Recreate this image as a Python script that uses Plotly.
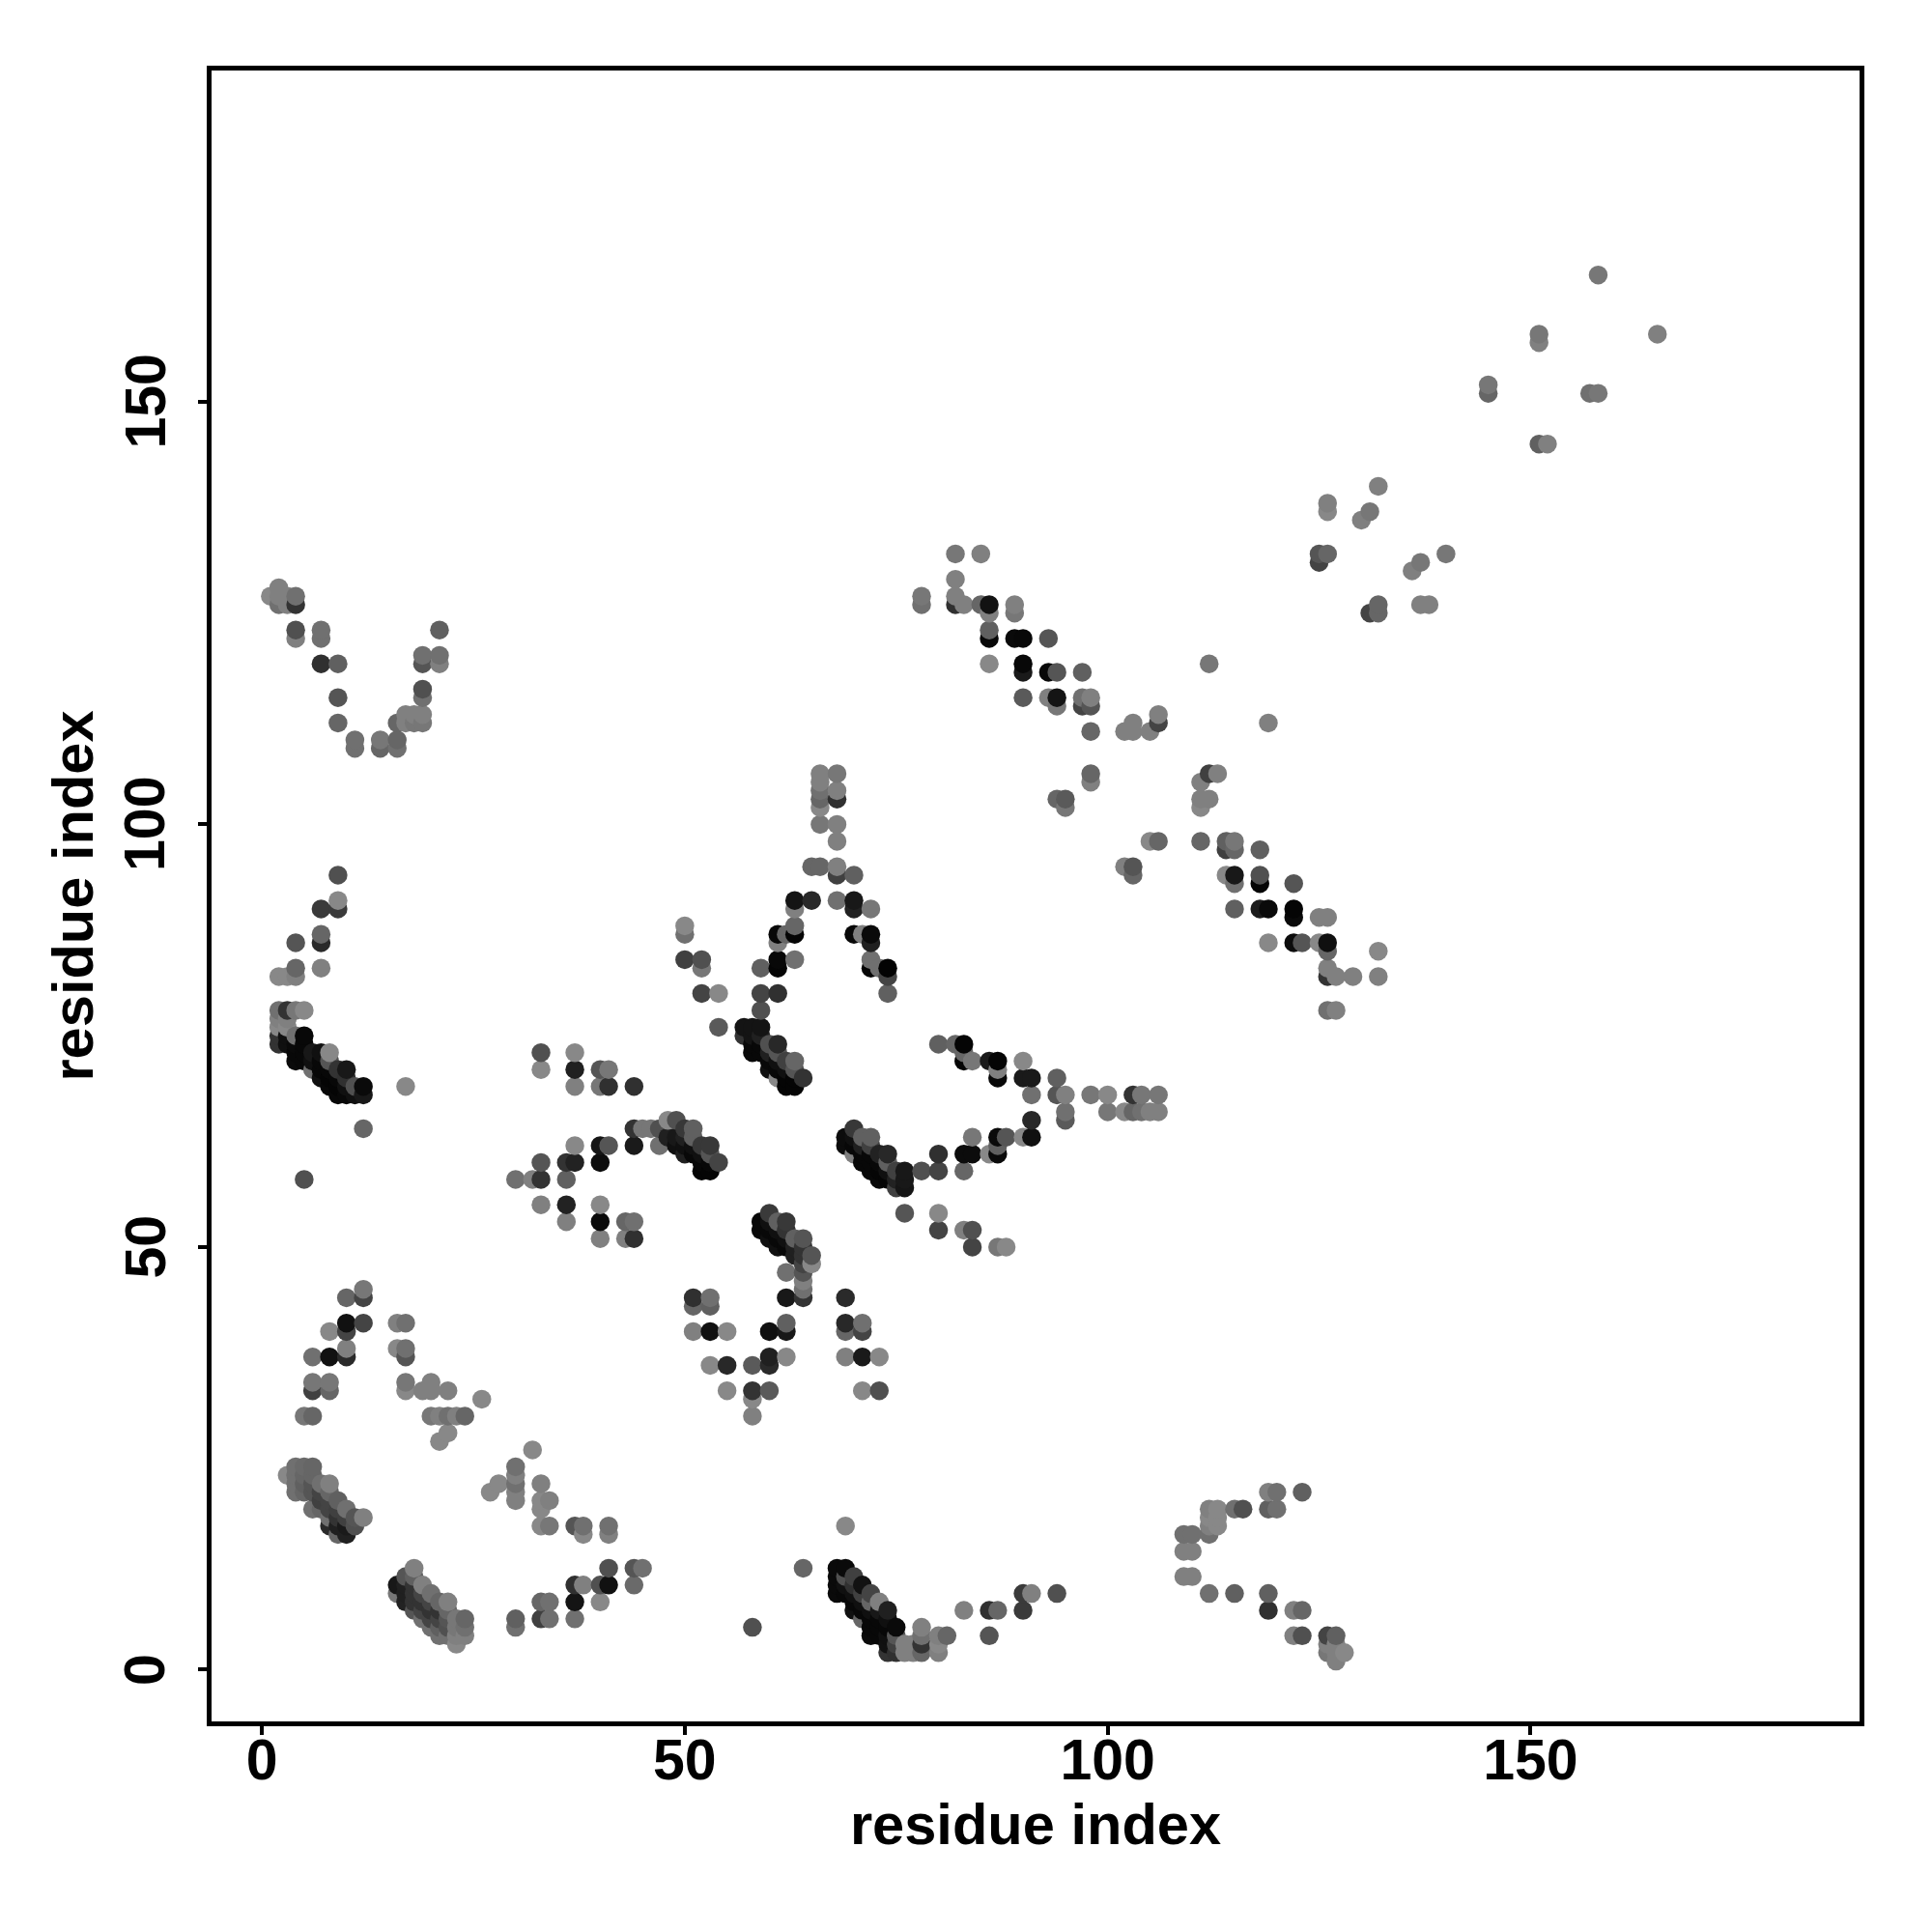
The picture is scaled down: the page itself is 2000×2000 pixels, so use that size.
import plotly.graph_objects as go

# (residue i, residue j, grey level)
low_left_arc = [(12,45,0x77),(12,44,0x44),(10,44,0x66),(10,41,0x11),(12,41,0x44),(10,40,0x44),(8,40,0x88),(10,38,0x80),(10,37,0x2a),(8,37,0x11),(6,37,0x70),(6,34,0x77),(8,34,0x77),(6,33,0x40),(8,33,0x66),(5,30,0x77),(6,30,0x66)]
low_mid_arc = [(16,41,0x80),(17,41,0x70),(16,38,0x88),(17,38,0x70),(17,37,0x55),(17,34,0x77),(17,33,0x88),(19,33,0x80),(20,34,0x80),(20,33,0x80),(22,33,0x80),(26,32,0x88),(20,30,0x77),(21,30,0x80),(22,30,0x70),(23,30,0x80),(24,30,0x66),(22,28,0x88),(21,27,0x88)]
helix_a = [(3,23,0x88),(4,24,0x70),(4,23,0x70),(4,22,0x70),(4,21,0x70),(5,24,0x6a),(5,23,0x66),(5,22,0x60),(5,21,0x66),(6,24,0x66),(6,23,0x66),(6,22,0x55),(6,21,0x55),(6,19,0x70),(7,22,0x70),(7,21,0x44),(7,20,0x40),(7,19,0x66),(8,22,0x80),(8,21,0x66),(8,20,0x44),(8,19,0x44),(8,18,0x70),(8,17,0x2a),(9,20,0x60),(9,19,0x40),(9,18,0x33),(9,17,0x20),(9,16,0x66),(10,19,0x70),(10,18,0x40),(10,17,0x1a),(10,16,0x20),(11,18,0x55),(11,17,0x50),(12,18,0x80)]
helix_b = [(18,12,0x80),(17,11,0x55),(18,11,0x60),(16,10,0x18),(17,10,0x20),(18,10,0x33),(19,10,0x80),(16,9,0x77),(17,9,0x20),(18,9,0x33),(19,9,0x44),(20,9,0x70),(17,8,0x22),(18,8,0x33),(19,8,0x33),(20,8,0x44),(21,8,0x66),(22,8,0x80),(18,7,0x55),(19,7,0x44),(20,7,0x33),(21,7,0x33),(22,7,0x66),(19,6,0x70),(20,6,0x44),(21,6,0x44),(22,6,0x55),(23,6,0x77),(24,6,0x66),(20,5,0x70),(21,5,0x60),(22,5,0x50),(23,5,0x77),(24,5,0x70),(21,4,0x70),(22,4,0x70),(23,4,0x80),(24,4,0x80),(23,3,0x88)]
low_mid_sheet = [(32,26,0x88),(30,24,0x70),(30,23,0x80),(30,22,0x70),(30,21,0x80),(30,20,0x80),(28,22,0x88),(27,21,0x88),(33,22,0x80),(33,20,0x88),(34,20,0x80),(33,19,0x88),(33,17,0x88),(34,17,0x77),(37,17,0x55),(38,17,0x70),(38,16,0x88),(41,17,0x70),(41,16,0x80),(41,12,0x50),(44,12,0x55),(45,12,0x70),(37,10,0x30),(38,10,0x80),(40,10,0x50),(41,10,0x11),(44,10,0x6a),(37,8,0x14),(40,8,0x88),(33,8,0x66),(34,8,0x70),(33,6,0x40),(34,6,0x70),(37,6,0x70),(30,6,0x60),(30,5,0x70)]
mid_arc = [(51,44,0x30),(51,43,0x66),(53,44,0x70),(53,43,0x60),(51,40,0x80),(53,40,0x11),(53,36,0x88),(55,40,0x88),(60,40,0x10),(62,40,0x18),(62,41,0x60),(62,44,0x18),(64,44,0x33),(64,45,0x70),(64,46,0x80),(64,47,0x55),(62,47,0x70),(64,48,0x44),(65,49,0x55),(65,48,0x88),(69,44,0x2a),(69,41,0x28),(69,40,0x66),(71,41,0x70),(71,40,0x44),(55,36,0x28),(58,36,0x5a),(60,37,0x20),(60,36,0x2a),(62,37,0x88),(69,37,0x80),(71,37,0x1a),(73,37,0x88),(55,33,0x88),(58,33,0x33),(60,33,0x5a),(58,32,0x88),(58,30,0x80),(71,33,0x88),(73,33,0x50)]
helix_c = [(69,17,0x88),(64,12,0x66),(68,12,0x0a),(69,12,0x0a),(68,11,0x0a),(69,11,0x50),(70,11,0x40),(68,10,0x0a),(69,10,0x10),(70,10,0x30),(71,10,0x12),(68,9,0x0a),(69,9,0x08),(70,9,0x10),(71,9,0x40),(72,9,0x44),(70,8,0x08),(71,8,0x10),(72,8,0x66),(73,8,0x80),(70,7,0x10),(71,7,0x08),(72,7,0x10),(73,7,0x18),(74,7,0x20),(71,6,0x66),(72,6,0x08),(73,6,0x08),(74,6,0x10),(72,5,0x08),(73,5,0x08),(74,5,0x08),(75,5,0x0a),(72,4,0x0a),(73,4,0x08),(74,4,0x10),(75,4,0x55),(74,3,0x11),(75,3,0x40),(74,2,0x33),(75,2,0x30),(76,3,0x80),(76,2,0x80),(77,3,0x80),(77,2,0x80),(78,5,0x80),(78,4,0x70),(78,3,0x33),(78,2,0x66)]
low_right = [(80,2,0x80),(80,3,0x88),(80,4,0x80),(81,4,0x66),(86,4,0x55),(83,7,0x80),(86,7,0x30),(87,7,0x66),(90,7,0x3a),(90,9,0x3a),(91,9,0x80),(94,9,0x50),(58,5,0x50),(109,11,0x80),(110,11,0x80),(109,14,0x80),(110,14,0x80),(109,16,0x70),(110,16,0x70),(112,16,0x70),(112,19,0x80),(113,19,0x88),(112,18,0x88),(113,18,0x88),(112,17,0x80),(113,17,0x88),(115,19,0x70),(116,19,0x50),(119,21,0x80),(120,21,0x70),(123,21,0x60),(119,19,0x60),(120,19,0x70),(112,9,0x70),(115,9,0x60),(119,9,0x60),(119,7,0x30),(122,7,0x80),(123,7,0x66),(122,4,0x80),(123,4,0x50),(126,4,0x44),(127,4,0x60),(126,3,0x80),(127,3,0x80),(126,2,0x77),(127,2,0x80),(128,2,0x88),(127,1,0x80)]
upper_left_arc = [(9,94,0x50),(9,91,0x88),(9,90,0x3a),(7,90,0x3a),(7,87,0x66),(7,86,0x2a),(4,86,0x55),(7,83,0x80),(4,83,0x66),(4,82,0x80),(3,82,0x88),(2,82,0x88),(17,69,0x88),(12,64,0x66),(5,58,0x50)]
helix_d = [(2,78,0x70),(3,78,0x33),(4,78,0x77),(5,78,0x88),(2,77,0x80),(3,77,0x80),(2,76,0x88),(3,76,0x88),(2,75,0x33),(2,74,0x33),(3,75,0x10),(3,74,0x10),(4,75,0x70),(5,75,0x08),(4,74,0x0a),(5,74,0x08),(4,73,0x08),(5,73,0x08),(4,72,0x0a),(5,72,0x08),(6,73,0x18),(7,73,0x10),(8,73,0x88),(6,72,0x10),(7,72,0x08),(8,72,0x55),(6,71,0x70),(7,71,0x08),(8,71,0x08),(9,71,0x33),(10,71,0x18),(7,70,0x10),(8,70,0x05),(9,70,0x08),(10,70,0x30),(8,69,0x08),(9,69,0x05),(10,69,0x10),(11,69,0x50),(12,69,0x0a),(9,68,0x08),(10,68,0x08),(11,68,0x10),(12,68,0x18)]
mid_left = [(33,73,0x50),(33,71,0x88),(37,73,0x88),(37,71,0x20),(37,69,0x80),(40,71,0x55),(41,71,0x77),(40,69,0x77),(41,69,0x30),(44,69,0x30),(44,64,0x33),(45,64,0x77),(46,64,0x77),(47,64,0x50),(37,62,0x88),(40,62,0x15),(41,62,0x55),(44,62,0x1a),(47,62,0x70),(33,60,0x55),(36,60,0x33),(37,60,0x22),(40,60,0x0c),(30,58,0x70),(32,58,0x80),(33,58,0x33),(36,58,0x60),(33,55,0x80),(36,55,0x22),(40,55,0x88),(36,53,0x80),(40,53,0x0a),(43,53,0x66),(44,53,0x70),(40,51,0x80),(43,51,0x80),(44,51,0x30)]
helix_e = [(48,65,0x88),(49,65,0x50),(50,64,0x38),(51,64,0x60),(48,63,0x20),(49,63,0x18),(50,63,0x20),(51,63,0x60),(49,62,0x10),(50,62,0x10),(50,61,0x20),(51,62,0x10),(51,61,0x08),(52,62,0x38),(53,62,0x38),(52,61,0x10),(53,61,0x55),(54,60,0x44),(52,60,0x08),(53,60,0x08),(52,59,0x05),(53,59,0x05)]
helix_f = [(54,76,0x5a),(57,76,0x14),(58,76,0x14),(59,76,0x14),(57,75,0x33),(58,75,0x14),(59,75,0x20),(58,74,0x08),(59,74,0x08),(60,74,0x50),(61,74,0x28),(58,73,0x08),(59,73,0x08),(60,73,0x20),(61,73,0x55),(60,72,0x08),(61,72,0x10),(62,72,0x40),(63,72,0x66),(60,71,0x10),(61,71,0x08),(62,71,0x10),(63,71,0x55),(61,70,0x88),(62,70,0x05),(63,70,0x05),(64,70,0x33),(62,69,0x05),(63,69,0x05)]
helix_g = [(70,64,0x38),(69,63,0x0c),(70,63,0x10),(71,63,0x60),(72,63,0x60),(69,62,0x0c),(70,62,0x08),(71,62,0x20),(72,62,0x40),(70,61,0x80),(71,61,0x08),(72,61,0x08),(73,61,0x22),(74,61,0x28),(71,60,0x08),(72,60,0x08),(73,60,0x08),(74,60,0x60),(72,59,0x08),(73,59,0x05),(74,59,0x10),(75,59,0x40),(76,59,0x18),(73,58,0x08),(74,58,0x05),(75,58,0x22),(76,58,0x18),(75,57,0x40),(76,57,0x15),(76,54,0x55)]
helix_h = [(60,54,0x3a),(59,53,0x08),(60,53,0x10),(61,53,0x60),(62,53,0x38),(59,52,0x08),(60,52,0x08),(61,52,0x10),(62,52,0x33),(60,51,0x10),(61,51,0x08),(62,51,0x10),(63,51,0x60),(64,51,0x55),(61,50,0x10),(62,50,0x08),(63,50,0x20),(64,50,0x33),(63,49,0x20),(64,49,0x33)]
upper_mid = [(66,106,0x80),(68,106,0x77),(66,105,0x80),(66,104,0x70),(68,104,0x80),(66,103,0x66),(68,103,0x30),(66,102,0x88),(66,100,0x77),(68,100,0x80),(68,98,0x80),(65,95,0x66),(66,95,0x66),(68,95,0x80),(68,94,0x40),(70,94,0x60),(63,91,0x14),(65,91,0x28),(68,91,0x70),(70,91,0x18),(70,90,0x22),(72,90,0x77),(63,90,0x80),(61,87,0x08),(63,88,0x66),(63,87,0x05),(62,87,0x66),(61,86,0x80),(70,87,0x08),(71,87,0x80),(72,87,0x0a),(72,86,0x20),(61,84,0x08),(61,83,0x05),(63,84,0x70),(59,83,0x60),(72,84,0x70),(72,83,0x05),(73,83,0x70),(74,83,0x03),(74,82,0x44),(74,80,0x60),(59,80,0x44),(61,80,0x30),(59,78,0x50),(50,88,0x88),(50,87,0x70),(50,84,0x40),(52,84,0x50),(52,83,0x77),(52,80,0x44),(54,80,0x88)]
right_fork = [(80,74,0x60),(82,74,0x66),(83,74,0x05),(83,73,0x66),(83,72,0x05),(84,72,0x77),(86,72,0x1a),(87,72,0x05),(87,71,0x80),(87,70,0x08),(90,72,0x88),(90,70,0x1a),(91,70,0x1a),(91,68,0x70),(94,70,0x60),(94,68,0x55),(95,68,0x80),(95,66,0x70),(95,65,0x5a),(98,68,0x77),(100,68,0x88),(100,66,0x77),(102,66,0x88),(103,68,0x33),(103,66,0x66),(104,68,0x77),(104,66,0x70),(105,66,0x80),(106,66,0x80),(106,68,0x77),(91,65,0x28),(91,63,0x10),(90,63,0x88),(87,63,0x0a),(88,63,0x55),(84,63,0x77),(83,61,0x0c),(84,61,0x0c),(80,61,0x30),(86,61,0x88),(87,61,0x0a),(87,62,0x60),(78,59,0x50),(80,59,0x44),(83,59,0x66),(80,54,0x88),(80,52,0x44),(83,52,0x80),(84,52,0x50),(84,50,0x44),(87,50,0x77),(88,50,0x88)]
top_v = [(1,127,0x88),(2,128,0x80),(2,127,0x80),(2,126,0x70),(3,127,0x80),(3,126,0x80),(4,127,0x70),(4,126,0x33),(4,123,0x50),(4,122,0x80),(7,123,0x70),(7,122,0x70),(7,119,0x30),(9,119,0x60),(9,115,0x55),(9,112,0x66),(11,110,0x70),(11,109,0x70),(14,110,0x77),(14,109,0x66),(16,110,0x66),(16,109,0x70),(16,112,0x66),(17,113,0x80),(17,112,0x80),(18,112,0x77),(18,113,0x80),(19,113,0x80),(19,112,0x77),(19,116,0x50),(19,115,0x70),(19,120,0x70),(19,119,0x55),(21,120,0x70),(21,119,0x80),(21,123,0x60)]
upper_diag = [(82,132,0x77),(85,132,0x80),(82,129,0x80),(78,127,0x77),(78,126,0x70),(82,127,0x80),(82,126,0x30),(83,126,0x80),(85,126,0x66),(86,126,0x12),(86,125,0x80),(89,126,0x80),(89,125,0x77),(86,123,0x60),(86,122,0x08),(89,122,0x0a),(90,122,0x08),(93,122,0x55),(86,119,0x88),(90,119,0x08),(90,118,0x1a),(93,118,0x08),(94,118,0x55),(97,118,0x60),(90,115,0x5a),(93,115,0x80),(94,115,0x14),(94,114,0x77),(97,115,0x70),(98,115,0x80),(97,114,0x44),(98,114,0x55),(98,111,0x66),(102,111,0x80),(103,112,0x80),(103,111,0x80),(105,111,0x80),(106,112,0x44),(106,113,0x80),(98,106,0x66),(98,105,0x80),(94,103,0x66),(95,103,0x5a),(95,102,0x77)]
right_diag = [(119,112,0x80),(112,119,0x77),(112,106,0x40),(113,106,0x80),(111,105,0x80),(111,103,0x80),(112,103,0x80),(111,102,0x88),(105,98,0x88),(106,98,0x66),(111,98,0x66),(114,98,0x60),(115,98,0x77),(114,97,0x40),(115,97,0x66),(118,97,0x60),(102,95,0x80),(103,95,0x55),(103,94,0x66),(114,94,0x88),(115,94,0x18),(115,93,0x70),(118,94,0x50),(118,93,0x05),(122,93,0x55),(115,90,0x60),(118,90,0x1c),(119,90,0x0a),(122,90,0x05),(122,89,0x0a),(125,89,0x80),(126,89,0x80),(119,86,0x88),(122,86,0x0c),(123,86,0x55),(125,86,0x88),(126,86,0x10),(126,85,0x66),(132,85,0x88),(126,83,0x80),(126,82,0x33),(127,82,0x80),(129,82,0x80),(132,82,0x80),(126,78,0x70),(127,78,0x80)]
top_right = [(126,138,0x80),(126,137,0x88),(132,140,0x80),(131,137,0x77),(130,136,0x80),(125,132,0x55),(126,132,0x66),(125,131,0x44),(140,132,0x77),(137,131,0x77),(136,130,0x80),(132,126,0x66),(131,125,0x44),(132,125,0x66),(137,126,0x80),(138,126,0x80),(158,165,0x77),(165,158,0x80),(151,158,0x77),(151,157,0x80),(145,152,0x77),(145,151,0x66),(157,151,0x70),(158,151,0x77),(151,145,0x60),(152,145,0x80)]

tick_values = [0, 50, 100, 150]
x_title = "residue index"
y_title = "residue index"

contacts = sorted(set(
    low_left_arc + low_mid_arc + helix_a + helix_b + low_mid_sheet + mid_arc + helix_c + low_right
    + upper_left_arc + helix_d + mid_left + helix_e + helix_f + helix_g + helix_h + upper_mid
    + right_fork + top_v + upper_diag + right_diag + top_right
), key=lambda c: (c[0], c[1]))

FAMILY = "Liberation Sans, Arial, sans-serif"
BOLD = dict(family=FAMILY, size=59, color="black", weight="bold")
TITLE = dict(family=FAMILY, size=59.6, color="black", weight="bold")

M_L, M_R, M_T, M_B = 218.5, 74.5, 73, 218

fig = go.Figure(go.Scatter(
    x=[c[0] for c in contacts],
    y=[c[1] for c in contacts],
    mode="markers",
    marker=dict(size=19.5, color=[f"rgb({c[2]},{c[2]},{c[2]})" for c in contacts], line=dict(width=0)),
    hoverinfo="skip",
))

axis_common = dict(
    tickvals=tick_values, ticks="outside", ticklen=9, tickwidth=4, tickcolor="black",
    showgrid=False, zeroline=False, showline=True, linecolor="black", linewidth=5, mirror=True,
    tickfont=BOLD,
)
fig.update_xaxes(range=[-5.95, 188.9], ticklabelstandoff=-25,
                 title=dict(text=x_title, font=TITLE, standoff=7), **axis_common)
fig.update_yaxes(range=[-6.13, 189.2], showticklabels=False,
                 title=dict(text=y_title, font=TITLE, standoff=91), **axis_common)

# Rotated labels centred exactly on their ticks
plot_w = 2000 - M_L - M_R
for v in tick_values:
    fig.add_annotation(
        xref="paper", yref="y", x=(150 - M_L) / plot_w, y=v, text=str(v), textangle=-90,
        showarrow=False, xanchor="center", yanchor="middle", font=BOLD,
    )

fig.update_layout(
    width=2000, height=2000, autosize=False,
    margin=dict(l=M_L, r=M_R, t=M_T, b=M_B, autoexpand=False),
    paper_bgcolor="white", plot_bgcolor="white", showlegend=False,
)
fig.write_html("out.html", config={"displayModeBar": False}, post_script="document.body.style.margin='0';")
